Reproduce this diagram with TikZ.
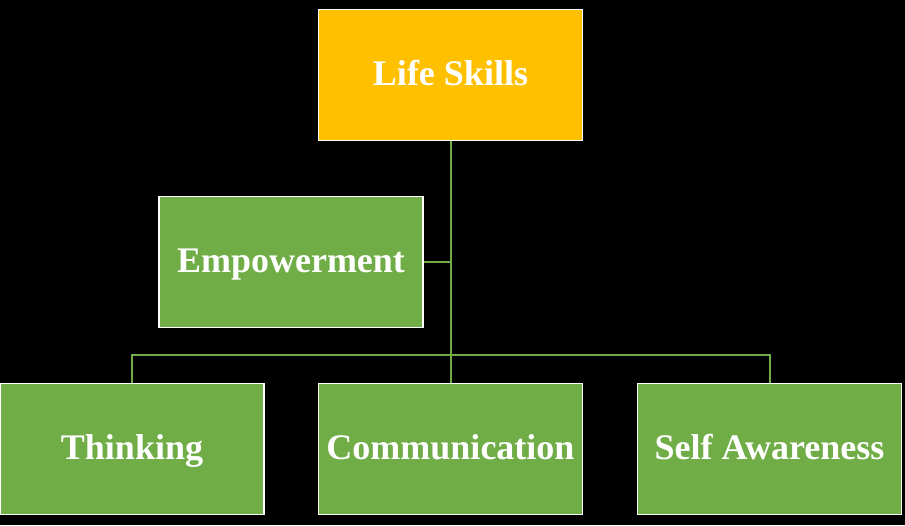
\documentclass[tikz,border=0pt]{standalone}
\usepackage{fontspec}
\setmainfont{Liberation Serif}
\usepackage{tikz}
\usetikzlibrary{positioning}
\definecolor{skillgreen}{HTML}{70AD47}
\definecolor{skillgold}{HTML}{FFC000}
\tikzset{
  lvbox/.style={draw=white,line width=1.5pt,fill=skillgreen,minimum width=264pt,minimum height=131pt,align=center,text=white,font=\fontsize{36}{40}\selectfont\bfseries,text height=25pt,text depth=5pt,inner sep=2pt},
  lvlink/.style={draw=skillgreen,line width=2pt}
}
\begin{document}
\begin{tikzpicture}[x=1pt,y=1pt]
\fill[black] (0,0) rectangle (905,-525);
\useasboundingbox (0,0) rectangle (905,-525);
\node[lvbox,fill=skillgold] (top) at (450.5,-75) {Life Skills};
\node[lvbox] (emp) at (291,-262) {Empowerment};
\node[lvbox] (think) at (132,-449) {Thinking};
\node[lvbox] (comm) at (450.5,-449) {Communication};
\node[lvbox] (self) at (769.5,-449) {Self Awareness};
\coordinate (hub) at (top.south |- 0,-355);
\draw[lvlink] (top.south)--(hub);
\draw[lvlink] (emp.east)--(emp.east -| top.south);
\draw[lvlink] (hub)--(comm.north);
\draw[lvlink] (think.north)--(think.north |- hub)--(self.north |- hub)--(self.north);
\end{tikzpicture}
\end{document}
